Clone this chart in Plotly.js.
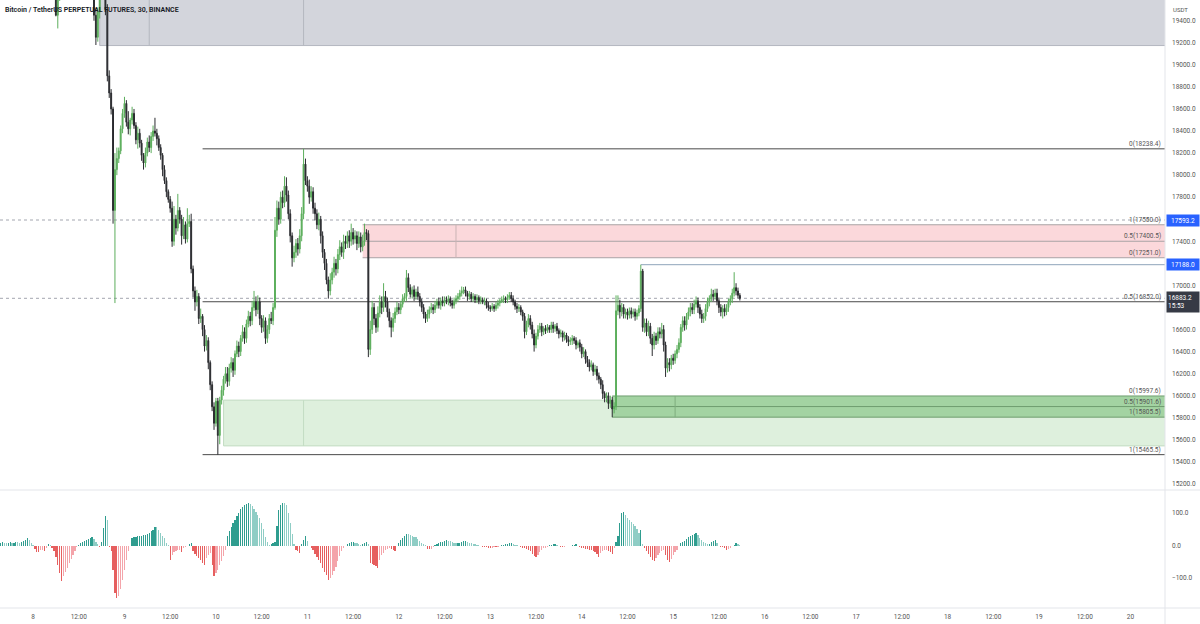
<!DOCTYPE html>
<html><head><meta charset="utf-8">
<script src="https://cdn.plot.ly/plotly-3.0.1.min.js"></script>
<style>html,body{margin:0;padding:0;background:#fff}#chart{width:1200px;height:624px}</style>
</head><body><div id="chart"></div>
<script>
// ---------- DATA (30-minute candles, BTCUSDT perpetual) ----------
const startTimeUTC = Date.UTC(2022, 10, 7, 15, 0);   // first candle time
const firstOpen = 20350;
const closes = [
20400,20450,20380,20500,20550,20480,20520,20600,20580,20450,
20380,20420,20350,20300,20380,20450,20400,20320,20280,20350,
20250,20200,20150,20220,20100,20050,20120,20000,19950,19880,
19450,19620,19800,19850,19900,19850,19950,20000,19920,19980,
20050,19980,20020,20100,20060,20000,19950,19880,19800,19700,
19450,19250,19480,19650,19700,19750,19500,18900,18745,18600,
17680,18050,18150,18220,18420,18560,18650,18480,18420,18500,
18560,18450,18320,18380,18290,18180,18110,18200,18300,18250,
18350,18400,18380,18330,18250,18180,18050,17950,17850,17780,
17700,17400,17600,17520,17680,17600,17450,17550,17420,17560,
17580,17150,16950,16850,16900,16700,16720,16600,16450,16500,
16300,16100,15900,15750,15950,15640,15960,16050,16150,16200,
16130,16250,16300,16230,16380,16450,16400,16520,16580,16520,
16650,16720,16680,16800,16850,16780,16850,16700,16620,16680,
16520,16600,16700,16680,16800,17500,17700,17600,17800,17750,
17900,17820,17650,17450,17250,17300,17380,17330,17450,17650,
18100,17950,17900,17800,17850,17700,17650,17550,17600,17450,
17300,17200,17050,16950,17050,17120,17200,17150,17280,17350,
17300,17400,17380,17450,17400,17480,17420,17450,17380,17440,
17350,17400,17480,17470,16420,16600,16800,16700,16620,16750,
16850,16800,16900,16850,16760,16680,16620,16700,16760,16800,
16780,16830,16880,16900,17070,16980,16920,16960,16900,16940,
16900,16850,16800,16740,16700,16740,16780,16800,16780,16820,
16850,16820,16860,16840,16870,16860,16880,16840,16820,16860,
16880,16900,16930,16950,16960,16930,16900,16920,16880,16900,
16870,16890,16860,16870,16850,16860,16820,16800,16790,16810,
16790,16820,16840,16860,16870,16880,16870,16890,16910,16880,
16850,16810,16790,16800,16760,16720,16580,16650,16700,16640,
16560,16460,16540,16600,16630,16580,16610,16590,16620,16600,
16640,16610,16630,16590,16560,16570,16530,16550,16510,16490,
16500,16520,16500,16460,16480,16440,16380,16400,16330,16300,
16260,16280,16220,16240,16180,16150,16100,16020,15980,16000,
15930,15960,15880,15900,16770,16820,16760,16800,16740,16760,
16730,16770,16740,16760,16720,16750,16790,17130,16620,16660,
16580,16630,16520,16460,16540,16500,16580,16560,16600,16460,
16250,16300,16280,16340,16320,16380,16420,16480,16620,16680,
16640,16720,16760,16800,16780,16830,16860,16800,16740,16700,
16720,16790,16850,16880,16920,16900,16930,16860,16800,16760,
16790,16760,16800,16850,16880,16930,16980,16950,16910,16883.2
];
const upperWicks = [
40,60,30,80,50,30,70,40,30,20,
50,40,30,60,80,40,30,20,50,60,
40,30,60,50,30,40,70,30,40,30,
50,40,60,80,50,70,60,40,30,70,
60,40,50,70,40,30,50,40,30,60,
100,60,40,50,100,50,50,50,50,35,
20,150,100,30,30,40,60,30,100,20,
60,40,30,60,40,30,20,50,40,60,
40,50,120,40,30,30,20,40,30,20,
30,60,120,40,150,30,40,70,30,140,
60,70,30,40,60,30,70,20,40,50,
30,20,30,40,30,30,30,40,30,60,
60,40,50,40,30,50,40,30,60,40,
40,50,40,60,100,50,60,40,30,50,
30,40,40,60,40,120,70,60,50,60,
90,80,40,40,30,60,40,50,60,60,
138,50,40,60,50,40,50,40,60,30,
40,30,40,30,60,40,60,40,50,60,
40,60,50,40,50,80,40,50,40,50,
40,60,80,30,30,80,60,40,40,60,
60,50,120,50,40,30,30,50,40,50,
40,30,40,30,70,40,30,30,40,30,
50,30,30,30,20,40,30,40,30,40,
30,40,30,40,30,30,30,20,30,30,
30,30,30,40,26,30,20,30,20,30,
20,30,20,30,20,30,20,30,20,30,
20,30,30,20,30,30,20,30,30,30,
30,20,30,30,20,20,30,30,40,30,
30,40,30,40,30,30,20,30,30,20,
30,30,20,30,20,30,20,30,20,30,
30,30,20,30,20,30,30,40,20,30,
30,40,20,40,30,30,20,40,20,30,
30,40,30,40,140,90,50,40,30,30,
30,30,30,30,30,30,30,58,20,40,
40,50,30,40,40,30,40,40,60,40,
30,40,40,30,40,30,40,40,30,40,
40,30,40,40,40,40,40,30,30,40,
30,40,40,30,50,40,40,40,30,30,
30,40,30,30,30,40,140,40,30,20
];
const lowerWicks = [
50,30,60,40,30,50,40,30,70,40,
30,60,40,50,30,40,60,30,40,30,
60,40,30,50,70,40,30,60,40,50,
10,120,40,50,30,60,40,50,40,30,
40,60,30,40,50,40,30,60,40,80,
50,70,40,60,50,60,50,50,45,50,
120,840,50,40,30,40,40,40,50,60,
40,30,40,80,40,50,60,40,30,40,
50,40,30,60,30,40,60,30,50,30,
40,50,40,60,30,40,80,30,40,30,
30,40,60,80,40,50,40,60,50,40,
60,50,40,60,30,175,80,40,50,40,
50,40,40,60,40,30,50,40,30,50,
40,30,50,40,30,60,40,60,50,40,
50,40,40,30,40,20,60,50,40,50,
40,60,50,60,80,40,50,60,40,50,
50,40,50,60,40,50,60,40,50,70,
50,60,40,70,40,40,50,60,40,50,
40,60,50,40,60,40,50,40,60,40,
50,40,40,60,70,50,40,60,50,40,
40,60,40,50,50,60,90,40,40,30,
40,40,30,30,40,40,30,40,40,30,
30,40,40,40,40,30,40,30,40,30,
30,30,40,30,30,30,40,30,30,30,
30,30,30,30,30,30,40,30,30,30,
30,30,30,30,20,30,30,30,30,20,
30,20,30,30,20,30,30,30,20,30,
30,30,40,30,30,40,60,30,30,40,
40,60,30,30,30,40,30,30,20,30,
30,40,30,30,40,30,40,30,30,40,
30,40,30,40,30,40,40,30,40,40,
40,30,40,30,40,40,40,50,40,40,
50,40,75,40,30,40,60,40,40,40,
40,30,40,30,40,30,30,30,40,50,
40,40,50,100,40,40,30,40,40,60,
80,40,60,40,40,30,40,30,40,40,
50,40,30,40,40,40,30,50,40,40,
40,40,30,40,30,40,30,40,50,40,
60,40,30,40,30,40,30,40,30,20
];
const histogram = [
8,9,10,9,7,9,10,8,9,11,
10,9,12,14,18,24,18,8,2,-12,
-20,-21,-15,-14,-18,-8,5,3,-8,-18,
-34,-60,-85,-108,-95,-82,-68,-55,-42,-30,
-18,-6,3,8,12,15,18,20,22,27,
20,12,4,-5,10,53,90,80,-4,-18,
-75,-146,-161,-156,-135,-105,-75,-44,-18,-3,
22,26,27,28,29,30,31,33,35,38,
44,48,58,56,48,38,28,22,8,2,
-44,-30,-20,-18,-15,-13,-20,-8,-5,-3,
5,8,-18,-25,-32,-39,-46,-54,-59,-38,
-30,-22,-60,-95,-85,-75,-60,-48,-33,-13,
30,45,58,70,80,92,100,112,118,124,
128,130,128,121,112,104,95,84,68,50,
25,12,3,6,8,10,60,109,125,132,
130,125,99,70,35,5,-13,-18,-23,5,
17,30,15,-3,-8,-14,-25,-36,-45,-55,
-68,-80,-92,-105,-100,-90,-78,-65,-48,-32,
-18,-8,-3,5,9,12,12,9,7,5,
3,4,7,12,4,-54,-58,-60,-64,-69,
-45,-30,-22,-15,-12,-8,-10,-14,-18,-3,
8,17,22,28,36,34,31,28,27,26,
20,15,9,5,2,-10,-12,-11,-5,2,
5,9,11,12,15,17,15,13,10,9,
7,7,9,12,13,14,12,9,7,5,
4,2,1,-3,-4,-5,-6,-7,-8,-7,
-6,-6,-4,-3,1,3,4,6,7,7,
6,3,1,-3,-5,-7,-9,-12,-14,-18,
-25,-31,-36,-29,-20,-13,-9,-7,-4,1,
2,4,5,1,-3,-4,-5,-4,-3,-3,
-2,1,3,4,-3,-6,-8,-9,-11,-12,
-14,-15,-18,-21,-25,-34,-24,-18,-14,-13,
-16,-19,-26,-8,12,30,68,100,102,94,
86,80,73,67,60,50,38,48,5,-8,
-18,-26,-34,-44,-47,-38,-29,-23,-18,-13,
-30,-44,-52,-40,-29,-20,-13,-3,8,12,
15,19,26,30,33,36,38,32,24,17,
10,7,4,6,10,14,17,8,-2,-4,
-5,-9,-13,-10,-8,-3,3,7,5,2
];

// axis ticks
const priceTicks = [15200,15400,15600,15800,16000,16200,16400,16600,17000,17400,17800,18000,18200,18400,18600,18800,19000,19200,19400];
const oscTicks = [-100, 0, 100];
const oscTickText = ['\u2212100.0', '0.0', '100.0'];
const timeTicks = ['2022-11-08 00:00','2022-11-08 12:00','2022-11-09 00:00','2022-11-09 12:00','2022-11-10 00:00','2022-11-10 12:00',
 '2022-11-11 00:00','2022-11-11 12:00','2022-11-12 00:00','2022-11-12 12:00','2022-11-13 00:00','2022-11-13 12:00',
 '2022-11-14 00:00','2022-11-14 12:00','2022-11-15 00:00','2022-11-15 12:00','2022-11-16 00:00','2022-11-16 12:00',
 '2022-11-17 00:00','2022-11-17 12:00','2022-11-18 00:00','2022-11-18 12:00','2022-11-19 00:00','2022-11-19 12:00','2022-11-20 00:00'];
const timeTickText = ['8','12:00','9','12:00','10','12:00','11','12:00','12','12:00','13','12:00','14','12:00','15','12:00','16','12:00','17','12:00','18','12:00','19','12:00','20'];
const timeRange = ['2022-11-07 15:20', '2022-11-20 09:04'];

// drawings
const fibMainRatios = ['0','0.5','1'];
const fibMainLevels = [18238.4, 16852.0, 15465.5];
const fibMainStart = '2022-11-09 20:30';
const fibSellRatios = ['1','0.5','0'];
const fibSellLevels = [17550.0, 17400.5, 17251.0];
const fibSellStart = '2022-11-11 14:30';
const fibSellMark = '2022-11-12 15:00';
const fibBuyRatios = ['0','0.5','1'];
const fibBuyLevels = [15997.6, 15901.6, 15805.5];
const fibBuyStart = '2022-11-14 08:00';
const fibBuyMark = '2022-11-15 00:30';
const supplyZone = [19175, 19800];
const supplyStart = '2022-11-08 17:30';
const supplyMarks = ['2022-11-09 06:30', '2022-11-10 23:00'];
const demandZone = [15545, 15960];
const demandStart = '2022-11-10 02:00';
const demandMark = '2022-11-10 23:00';
const highRayPrice = 17188.0;
const highRayStart = '2022-11-14 15:30';
const dottedLevels = [17593.2, 16883.2];
const lastPrice = 16883.2;
const countdown = '15:53';
const farRight = '2022-11-25 00:00';

// ---------- BUILD ----------
const pad = n => String(n).padStart(2,'0');
const times = [], opens = [], highs = [], lows = [];
let prev = firstOpen;
for (let i = 0; i < closes.length; i++) {
  const d = new Date(startTimeUTC + i * 1800000);
  times.push(`${d.getUTCFullYear()}-${pad(d.getUTCMonth()+1)}-${pad(d.getUTCDate())} ${pad(d.getUTCHours())}:${pad(d.getUTCMinutes())}`);
  const o = prev, c = closes[i];
  opens.push(o);
  highs.push(Math.max(o, c) + upperWicks[i]);
  lows.push(Math.min(o, c) - lowerWicks[i]);
  prev = c;
}
const histColors = histogram.map((v, i) => {
  const p = i > 0 ? histogram[i-1] : 0;
  if (v >= 0) return v >= p ? '#2f9d8f' : '#8fcdc5';
  return v <= p ? '#e65f5f' : '#f4a4aa';
});

const candles = {
  type: 'candlestick', x: times, open: opens, high: highs, low: lows, close: closes,
  xaxis: 'x', yaxis: 'y',
  increasing: {line: {color: '#5cae5c', width: 1}, fillcolor: '#4fa84f'},
  decreasing: {line: {color: '#2a2b2f', width: 1}, fillcolor: '#2a2b2f'},
  whiskerwidth: 0, showlegend: false, hoverinfo: 'none'
};
const osc = {
  type: 'bar', x: times, y: histogram, xaxis: 'x', yaxis: 'y2',
  marker: {color: histColors, line: {width: 0}}, width: 1150000,
  showlegend: false, hoverinfo: 'none'
};

const LABEL_FONT = {family: 'Roboto, Arial, sans-serif', size: 6.5, color: '#555'};
const shapes = [];
const annotations = [];
function hline(x0, y, color, width, dash, layer) {
  shapes.push({type: 'line', xref: 'x', yref: 'y', x0: x0, x1: farRight, y0: y, y1: y,
    line: {color: color, width: width || 1, dash: dash || 'solid'}, layer: layer || 'below'});
}
function vline(x, y0, y1, color) {
  shapes.push({type: 'line', xref: 'x', yref: 'y', x0: x, x1: x, y0: y0, y1: y1, line: {color: color, width: 1}, layer: 'below'});
}
function rect(x0, y0, y1, fill, lineColor) {
  shapes.push({type: 'rect', xref: 'x', yref: 'y', x0: x0, x1: farRight, y0: y0, y1: y1,
    fillcolor: fill, line: {color: lineColor || 'rgba(0,0,0,0)', width: lineColor ? 1 : 0}, layer: 'below'});
}
function fibLabel(ratio, level) {
  annotations.push({xref: 'paper', yref: 'y', x: 1162/1165, y: level, xanchor: 'right', yanchor: 'bottom',
    text: `${ratio}(${level.toFixed(1)})`, showarrow: false, font: LABEL_FONT, borderpad: 0});
}

// supply zone (grey)
rect(supplyStart, supplyZone[0], supplyZone[1], '#d3d5dc', '#b4b7bf');
supplyMarks.forEach(t => vline(t, supplyZone[0], supplyZone[1], '#b4b7bf'));
// demand zone (light green)
rect(demandStart, demandZone[0], demandZone[1], '#def0dd', '#c3dcc3');
vline(demandMark, demandZone[0], demandZone[1], '#c3dcc3');
// sell fib (pink)
rect(fibSellStart, fibSellLevels[2], fibSellLevels[0], '#fbd8db');
fibSellLevels.forEach(l => hline(fibSellStart, l, '#a9a3a5', 1));
vline(fibSellMark, fibSellLevels[2], fibSellLevels[0], '#c9b4b6');
// buy fib (green)
rect(fibBuyStart, fibBuyLevels[2], fibBuyLevels[0], '#a3d3a2');
fibBuyLevels.forEach(l => hline(fibBuyStart, l, '#6f9d6f', 1));
vline(fibBuyMark, fibBuyLevels[2], fibBuyLevels[0], '#7fae7f');
// main fib (black)
fibMainLevels.forEach(l => hline(fibMainStart, l, '#4a4a4a', 1));
// high ray
hline(highRayStart, highRayPrice, '#8ea4bb', 1);
// dotted price lines
dottedLevels.forEach(l => shapes.push({type: 'line', xref: 'paper', yref: 'y', x0: 0, x1: 1, y0: l, y1: l,
  line: {color: '#a3a6af', width: 1, dash: 'dot'}, layer: 'below'}));

fibMainRatios.forEach((r, i) => fibLabel(r, fibMainLevels[i]));
fibSellRatios.forEach((r, i) => fibLabel(r, fibSellLevels[i]));
fibBuyRatios.forEach((r, i) => fibLabel(r, fibBuyLevels[i]));

// pane separators and axis border
const splitFrac = (608 - 490) / 608;
shapes.push({type: 'line', xref: 'paper', yref: 'paper', x0: 0, x1: 1200/1165, y0: splitFrac, y1: splitFrac, line: {color: '#e3e5ea', width: 1}});
shapes.push({type: 'line', xref: 'paper', yref: 'paper', x0: 0, x1: 1200/1165, y0: 0, y1: 0, line: {color: '#e3e5ea', width: 1}});
shapes.push({type: 'line', xref: 'paper', yref: 'paper', x0: 1, x1: 1, y0: -16/608, y1: 1, line: {color: '#e3e5ea', width: 1}});

// axis price tags
const tagFont = {family: 'Roboto, Arial, sans-serif', size: 6.5, color: '#ffffff'};
annotations.push({xref: 'paper', yref: 'y', x: 1, xshift: 1, y: dottedLevels[0], xanchor: 'left', yanchor: 'middle',
  text: dottedLevels[0].toFixed(1), showarrow: false, bgcolor: '#2962ff', font: tagFont, width: 30, height: 9, borderpad: 1, align: 'center'});
annotations.push({xref: 'paper', yref: 'y', x: 1, xshift: 1, y: highRayPrice, xanchor: 'left', yanchor: 'middle',
  text: highRayPrice.toFixed(1), showarrow: false, bgcolor: '#2962ff', font: tagFont, width: 30, height: 9, borderpad: 1, align: 'center'});
annotations.push({xref: 'paper', yref: 'y', x: 1, xshift: 1, y: lastPrice, yshift: -4, xanchor: 'left', yanchor: 'middle',
  text: lastPrice.toFixed(1) + '<br>' + countdown, showarrow: false, bgcolor: '#363a45', font: tagFont, width: 30, height: 18, borderpad: 1, align: 'left'});
annotations.push({xref: 'paper', yref: 'paper', x: 1, xshift: 6, y: 1, yshift: -4, xanchor: 'left', yanchor: 'top',
  text: 'USDT', showarrow: false, font: {family: 'Roboto, Arial, sans-serif', size: 6, color: '#555'}});
annotations.push({xref: 'paper', yref: 'paper', x: 0, xshift: 3, y: 1, yshift: -4, xanchor: 'left', yanchor: 'top',
  text: 'Bitcoin / TetherUS PERPETUAL FUTURES, 30, BINANCE', showarrow: false,
  font: {family: 'Roboto, Arial, sans-serif', size: 7, color: '#131722', weight: 600}});

const layout = {
  width: 1200, height: 624,
  margin: {l: 0, r: 35, t: 0, b: 16, pad: 0},
  paper_bgcolor: '#ffffff', plot_bgcolor: '#ffffff',
  showlegend: false, hovermode: false, dragmode: false,
  xaxis: {type: 'date', range: timeRange, anchor: 'y2', tickvals: timeTicks, ticktext: timeTickText,
    showgrid: false, zeroline: false, showline: false, ticks: '', ticklabelstandoff: 3,
    tickfont: {family: 'Roboto, Arial, sans-serif', size: 6.5, color: '#555'},
    rangeslider: {visible: false}, automargin: false, fixedrange: true},
  yaxis: {domain: [splitFrac, 1], range: [15145, 19588], side: 'right', anchor: 'x',
    tickvals: priceTicks, ticktext: priceTicks.map(v => v.toFixed(1)),
    showgrid: false, zeroline: false, showline: false, ticks: '', ticklabelstandoff: 6,
    tickfont: {family: 'Roboto, Arial, sans-serif', size: 6.5, color: '#555'}, automargin: false, fixedrange: true},
  yaxis2: {domain: [0, splitFrac], range: [-192.3, 170.8], side: 'right', anchor: 'x',
    tickvals: oscTicks, ticktext: oscTickText,
    showgrid: false, zeroline: false, showline: false, ticks: '', ticklabelstandoff: 6,
    tickfont: {family: 'Roboto, Arial, sans-serif', size: 6.5, color: '#555'}, automargin: false, fixedrange: true},
  shapes: shapes, annotations: annotations, bargap: 0
};
Plotly.newPlot('chart', [osc, candles], layout, {displayModeBar: false, staticPlot: true});
</script></body></html>
